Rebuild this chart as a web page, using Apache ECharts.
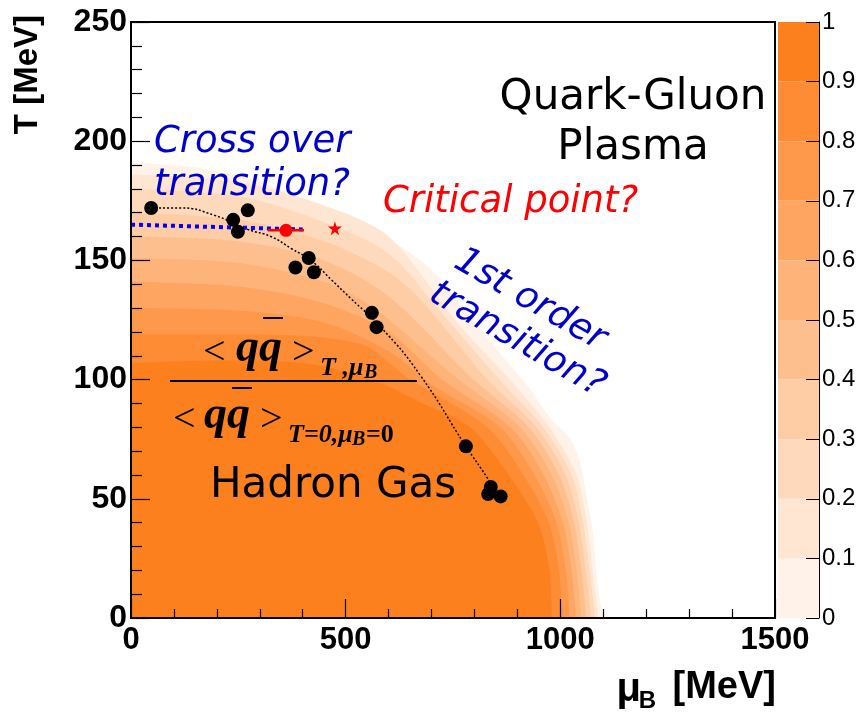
<!DOCTYPE html>
<html>
<head>
<meta charset="utf-8">
<script src="https://cdn.jsdelivr.net/npm/echarts@6/dist/echarts.min.js"></script>
<style>
html, body { margin: 0; padding: 0; background: #fff; }
#chart { width: 861px; height: 718px; }
</style>
</head>
<body>
<div id="chart"></div>
<script>
// Condensate ratio bands: contour boundaries [mu_B, T] in MeV, outermost (0) to innermost (0.9)
const contourLevels = [0, 0.1, 0.2, 0.3, 0.4, 0.5, 0.6, 0.7, 0.8, 0.9, 1.0];
const c0 = [[0,191],[150,189],[280,184],[400,176],[500,168],[600,159],[700,146],[790,126],[860,111],[930,96],[976,84],[1023,75],[1046,65],[1062,50],[1076,36],[1085,16],[1099,0]];
const c1 = [[0,186],[250,183],[450,173],[600,160],[764,123],[882,100],[974,80],[1038,60],[1062,40],[1075,20],[1089,0]];
const c2 = [[0,180],[250,177],[450,166],[600,153],[723,128],[858,100],[960,80],[1026,60],[1053,40],[1068,20],[1081,0]];
const c3 = [[0,170],[250,167],[450,158],[600,145],[677,133],[830,100],[944,80],[1012,60],[1043,40],[1059,20],[1072,0]];
const c4 = [[0,160],[250,158],[450,150],[600,135],[798,100],[926,80],[997,60],[1032,40],[1049,20],[1061,0]];
const c5 = [[0,151],[250,149],[450,141],[566,130],[763,100],[906,80],[980,60],[1020,40],[1038,20],[1049,0]];
const c6 = [[0,141],[250,139],[450,132],[600,120],[725,100],[884,80],[961,60],[1006,40],[1026,20],[1036,0]];
const c7 = [[0,130],[250,129],[450,124],[600,112],[700,98],[860,80],[940,60],[991,40],[1013,20],[1022,0]];
const c8 = [[0,119],[250,119],[533,115],[650,100],[830,80],[914,60],[973,40],[997,20],[1004,0]];
const c9 = [[0,107],[200,108],[400,107],[560,100],[680,90],[790,80],[880,60],[948,40],[975,20],[980,0]];
const contours = [c0, c1, c2, c3, c4, c5, c6, c7, c8, c9];
const bandColors = ['#fff2e8','#ffe6d2','#fed9bb','#fecca5','#febf8e','#feb378','#fea661','#fe994b','#fd8c34','#fd801e'];

// Chemical freeze-out points [mu_B, T]
const freezeOut = [[47,172],[238,167],[272,171],[249,162],[414,151],[383,147],[426,145],[561,128],[572,122],[780,72],[838,55],[832,52],[861,51]];
// Freeze-out parametrisation curve
const freezeCurve = [[47,172],[116,172],[193,169],[272,163],[326,160],[373,155],[419,150],[466,142],[512,134],[582,122],[673,102],[780,72],[829,59],[852,52]];
// Lattice crossover line
const crossover = [[0,165],[400,163]];
// Critical point estimates
const critPoint = [361, 162.6];
const critErr = [319, 403];
const critStar = [475, 163.5];

const xRange = [0, 1500];
const yRange = [0, 250];

const TXT = 'DejaVu Sans';
const AX = 'Liberation Sans';
const SERIF = 'Liberation Serif';

const series = [];
contours.forEach((c, k) => {
  series.push({
    type: 'line', data: c, xAxisIndex: 0, yAxisIndex: 0,
    showSymbol: false, silent: true, smooth: 0.3,
    lineStyle: { width: 0 },
    areaStyle: { color: bandColors[k], opacity: 1 },
    z: 1
  });
});
series.push({
  type: 'line', data: freezeCurve, xAxisIndex: 0, yAxisIndex: 0,
  showSymbol: false, smooth: true, silent: true,
  lineStyle: { color: '#000', width: 1.5, type: [2, 2] }, z: 4
});
series.push({
  type: 'line', data: crossover, xAxisIndex: 0, yAxisIndex: 0,
  showSymbol: false, silent: true,
  lineStyle: { color: '#0000ff', width: 4, type: [4, 4] }, z: 4
});
series.push({
  type: 'scatter', data: freezeOut, xAxisIndex: 0, yAxisIndex: 0,
  symbol: 'circle', symbolSize: 14, itemStyle: { color: '#000', opacity: 1 }, z: 5
});
series.push({
  type: 'line', data: [[critErr[0], critPoint[1]], [critErr[1], critPoint[1]]],
  xAxisIndex: 0, yAxisIndex: 0, showSymbol: false, silent: true,
  lineStyle: { color: '#ff0000', width: 2.5 }, z: 5
});
series.push({
  type: 'scatter', data: [critPoint], xAxisIndex: 0, yAxisIndex: 0,
  symbol: 'circle', symbolSize: 13, itemStyle: { color: '#ff0000', opacity: 1 }, z: 6
});
series.push({
  type: 'scatter', data: [critStar], xAxisIndex: 0, yAxisIndex: 0,
  symbol: 'path://M50,0 L61,35 L98,35 L68,57 L79,91 L50,70 L21,91 L32,57 L2,35 L39,35 Z',
  symbolSize: 14, itemStyle: { color: '#ff0000', opacity: 1 }, z: 6
});
// Colour scale bar: one stacked slab per contour band
for (let k = 0; k < bandColors.length; k++) {
  series.push({
    type: 'bar', xAxisIndex: 1, yAxisIndex: 1, stack: 'scale',
    data: [+(contourLevels[k + 1] - contourLevels[k]).toFixed(2)],
    barWidth: '100%', silent: true,
    itemStyle: { color: bandColors[k] }
  });
}

const chart = echarts.init(document.getElementById('chart'), null, { renderer: 'canvas' });
chart.setOption({
  animation: false,
  backgroundColor: '#fff',
  grid: [
    { left: 131, top: 22, width: 644, height: 596, show: true, borderColor: '#000', borderWidth: 2, backgroundColor: 'transparent' },
    { left: 778, top: 22, width: 41, height: 596 }
  ],
  xAxis: [
    {
      type: 'value', gridIndex: 0, min: xRange[0], max: xRange[1], interval: 500, z: 10,
      axisLine: { show: true, onZero: false, lineStyle: { color: '#000', width: 2 } },
      axisTick: { show: true, inside: true, length: 19, lineStyle: { color: '#000', width: 1.2 } },
      minorTick: { show: true, splitNumber: 5, length: 9, lineStyle: { color: '#000', width: 1.2 } },
      splitLine: { show: false },
      axisLabel: { fontFamily: AX, fontSize: 31, fontWeight: 'bold', color: '#000', margin: 7, formatter: v => String(v) }
    },
    { type: 'category', gridIndex: 1, data: ['scale'], show: false }
  ],
  yAxis: [
    {
      type: 'value', gridIndex: 0, min: yRange[0], max: yRange[1], interval: 50, z: 10,
      axisLine: { show: true, onZero: false, lineStyle: { color: '#000', width: 2 } },
      axisTick: { show: true, inside: true, length: 19, lineStyle: { color: '#000', width: 1.2 } },
      minorTick: { show: true, splitNumber: 5, length: 11, lineStyle: { color: '#000', width: 1.2 } },
      splitLine: { show: false },
      axisLabel: { fontFamily: AX, fontSize: 32, fontWeight: 'bold', color: '#000', margin: 4, formatter: v => String(v) }
    },
    {
      type: 'value', gridIndex: 1, min: 0, max: 1, interval: 0.1, position: 'right', z: 10,
      axisLine: { show: true, lineStyle: { color: '#000', width: 1 } },
      axisTick: { show: true, inside: true, length: 13, lineStyle: { color: '#000', width: 1 } },
      splitLine: { show: false },
      axisLabel: {
        fontFamily: AX, fontSize: 24, color: '#000', margin: 3,
        formatter: v => (v === 0 || v === 1) ? String(v) : v.toFixed(1)
      }
    }
  ],
  series: series,
  graphic: [
    // axis titles
    { type: 'text', x: 28, y: 15, rotation: Math.PI / 2, z: 20,
      style: { text: 'T [MeV]', fontFamily: AX, fontSize: 33, fontWeight: 'bold', fill: '#000', textAlign: 'right', textVerticalAlign: 'middle' } },
    { type: 'text', x: 776, y: 688, z: 20,
      style: { text: '[MeV]', fontFamily: AX, fontSize: 38, fontWeight: 'bold', fill: '#000', textAlign: 'right', textVerticalAlign: 'middle' } },
    { type: 'text', x: 656, y: 701, z: 20,
      style: { text: 'B', fontFamily: AX, fontSize: 24, fontWeight: 'bold', fill: '#000', textAlign: 'right', textVerticalAlign: 'middle' } },
    { type: 'text', x: 641, y: 690, z: 20,
      style: { text: 'μ', fontFamily: AX, fontSize: 40, fontWeight: 'bold', fill: '#000', textAlign: 'right', textVerticalAlign: 'middle' } },
    // region labels
    { type: 'text', x: 633, y: 98, z: 20,
      style: { text: 'Quark-Gluon', fontFamily: TXT, fontSize: 42, fill: '#000', textAlign: 'center', textVerticalAlign: 'middle' } },
    { type: 'text', x: 633, y: 148, z: 20,
      style: { text: 'Plasma', fontFamily: TXT, fontSize: 42, fill: '#000', textAlign: 'center', textVerticalAlign: 'middle' } },
    { type: 'text', x: 154, y: 142, z: 20,
      style: { text: 'Cross over', fontFamily: TXT, fontSize: 37, fontStyle: 'italic', fill: '#0000cc', textAlign: 'left', textVerticalAlign: 'middle' } },
    { type: 'text', x: 154, y: 185, z: 20,
      style: { text: 'transition?', fontFamily: TXT, fontSize: 37, fontStyle: 'italic', fill: '#0000cc', textAlign: 'left', textVerticalAlign: 'middle' } },
    { type: 'text', x: 383, y: 202, z: 20,
      style: { text: 'Critical point?', fontFamily: TXT, fontSize: 37, fontStyle: 'italic', fill: '#ff0000', textAlign: 'left', textVerticalAlign: 'middle' } },
    { type: 'text', x: 530, y: 300, rotation: -30 * Math.PI / 180, z: 20,
      style: { text: '1st order', fontFamily: TXT, fontSize: 37, fontStyle: 'italic', fill: '#0000cc', textAlign: 'center', textVerticalAlign: 'middle' } },
    { type: 'text', x: 517, y: 340, rotation: -30 * Math.PI / 180, z: 20,
      style: { text: 'transition?', fontFamily: TXT, fontSize: 37, fontStyle: 'italic', fill: '#0000cc', textAlign: 'center', textVerticalAlign: 'middle' } },
    { type: 'text', x: 333, y: 486, z: 20,
      style: { text: 'Hadron Gas', fontFamily: TXT, fontSize: 42, fill: '#000', textAlign: 'center', textVerticalAlign: 'middle' } },
    // condensate ratio label
    { type: 'text', x: 203, y: 353, z: 20,
      style: { text: '<', fontFamily: SERIF, fontSize: 40, fill: '#000', textAlign: 'left', textVerticalAlign: 'middle' } },
    { type: 'text', x: 236, y: 349, z: 20,
      style: { text: 'qq', fontFamily: SERIF, fontSize: 46, fontWeight: 'bold', fontStyle: 'italic', fill: '#000', textAlign: 'left', textVerticalAlign: 'middle' } },
    { type: 'text', x: 292, y: 353, z: 20,
      style: { text: '>', fontFamily: SERIF, fontSize: 40, fill: '#000', textAlign: 'left', textVerticalAlign: 'middle' } },
    { type: 'text', x: 320, y: 368, z: 20,
      style: { text: 'T ,μ', fontFamily: SERIF, fontSize: 26, fontWeight: 'bold', fontStyle: 'italic', fill: '#000', textAlign: 'left', textVerticalAlign: 'middle' } },
    { type: 'text', x: 364, y: 373, z: 20,
      style: { text: 'B', fontFamily: SERIF, fontSize: 20, fontWeight: 'bold', fontStyle: 'italic', fill: '#000', textAlign: 'left', textVerticalAlign: 'middle' } },
    { type: 'line', z: 20, shape: { x1: 263, y1: 318, x2: 283, y2: 318 }, style: { stroke: '#000', lineWidth: 2 } },
    { type: 'line', z: 20, shape: { x1: 170, y1: 381, x2: 417, y2: 381 }, style: { stroke: '#000', lineWidth: 2 } },
    { type: 'line', z: 20, shape: { x1: 232, y1: 388, x2: 252, y2: 388 }, style: { stroke: '#000', lineWidth: 2 } },
    { type: 'text', x: 173, y: 420, z: 20,
      style: { text: '<', fontFamily: SERIF, fontSize: 40, fill: '#000', textAlign: 'left', textVerticalAlign: 'middle' } },
    { type: 'text', x: 204, y: 416, z: 20,
      style: { text: 'qq', fontFamily: SERIF, fontSize: 46, fontWeight: 'bold', fontStyle: 'italic', fill: '#000', textAlign: 'left', textVerticalAlign: 'middle' } },
    { type: 'text', x: 260, y: 420, z: 20,
      style: { text: '>', fontFamily: SERIF, fontSize: 40, fill: '#000', textAlign: 'left', textVerticalAlign: 'middle' } },
    { type: 'text', x: 288, y: 435, z: 20,
      style: { text: 'T=0,μ', fontFamily: SERIF, fontSize: 26, fontWeight: 'bold', fontStyle: 'italic', fill: '#000', textAlign: 'left', textVerticalAlign: 'middle' } },
    { type: 'text', x: 352, y: 440, z: 20,
      style: { text: 'B', fontFamily: SERIF, fontSize: 20, fontWeight: 'bold', fontStyle: 'italic', fill: '#000', textAlign: 'left', textVerticalAlign: 'middle' } },
    { type: 'text', x: 366, y: 435, z: 20,
      style: { text: '=0', fontFamily: SERIF, fontSize: 26, fontWeight: 'bold', fill: '#000', textAlign: 'left', textVerticalAlign: 'middle' } }
  ]
});
</script>
</body>
</html>
